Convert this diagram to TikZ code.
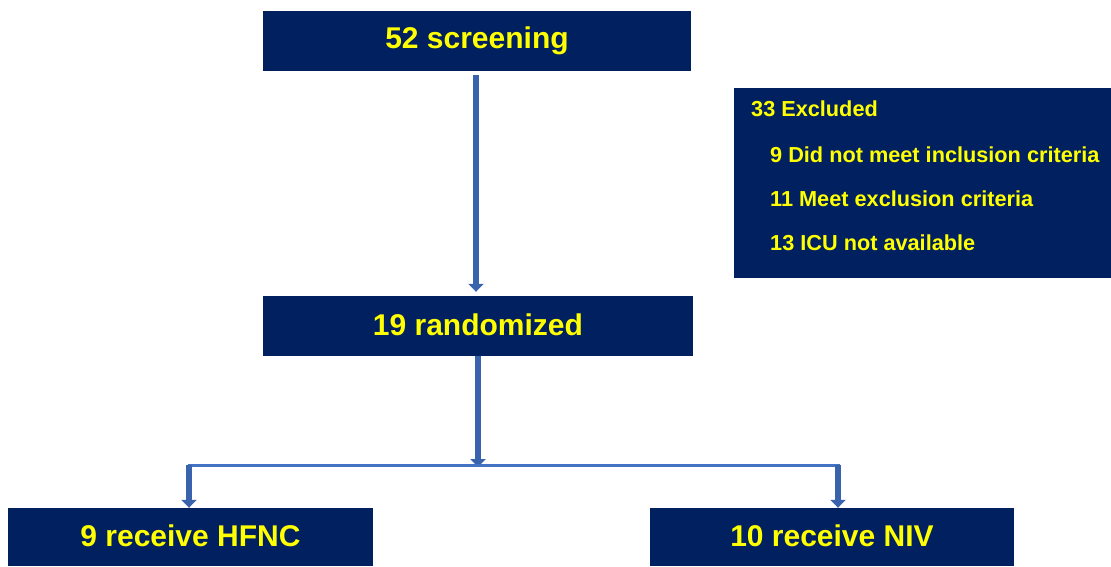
\documentclass[tikz,border=0pt]{standalone}
\usepackage{fontspec}
\setmainfont{Liberation Sans}
\usetikzlibrary{arrows.meta}
\definecolor{navy}{HTML}{002060}
\definecolor{arrowblue}{HTML}{3A63AE}
\definecolor{lineblue}{HTML}{4472C4}
\definecolor{txtyellow}{HTML}{FFFF00}
\tikzset{
  mainbox/.style={fill=navy, inner sep=0pt, text=txtyellow,
    font=\fontsize{30}{36}\selectfont\bfseries, minimum height=#1},
  mainbox/.default=60pt,
  smalltxt/.style={text=txtyellow, inner sep=0pt, anchor=base west,
    font=\fontsize{21.7}{26}\selectfont\bfseries},
  blockarrow/.style={draw=arrowblue, line width=5.5pt,
    -{Triangle[width=15pt,length=8pt]}},
  branchline/.style={draw=lineblue, line width=3pt}
}
\begin{document}
\begin{tikzpicture}[x=1pt,y=-1pt]
\useasboundingbox (0,0) rectangle (1111,567);
% main boxes
\node[mainbox, minimum width=428pt] (screen) at (477,41) {52 screening};
\node[mainbox, minimum width=430pt] (rand) at (478,326) {\raisebox{3pt}{19 randomized}};
\node[mainbox=58pt, minimum width=365pt] (hfnc) at (190.5,537) {\raisebox{2pt}{9 receive HFNC}};
\node[mainbox=58pt, minimum width=364pt] (niv) at (832,537) {\raisebox{2pt}{10 receive NIV}};
% excluded box
\node[fill=navy, inner sep=0pt, minimum width=377pt, minimum height=190pt] (excl) at (922.5,183) {};
\node[smalltxt] (ex0) at (751,117) {33 Excluded};
\node[smalltxt] (ex1) at (770,162) {9 Did not meet inclusion criteria};
\node[smalltxt] (ex2) at (770,206) {11 Meet exclusion criteria};
\node[smalltxt] (ex3) at (770,250) {13 ICU not available};
% connectors
\coordinate (split) at (478,465);
\coordinate (left) at (189,465);
\coordinate (right) at (838,465);
\draw[blockarrow, shorten <=4pt, shorten >=4pt] (screen.south -| 476,0) -- (rand.north -| 476,0);
\draw[blockarrow] (rand.south) -- ([yshift=-2pt]split);
\draw[branchline] ([xshift=-1.5pt]left) -- ([xshift=1.5pt]right);
\draw[blockarrow] (left) -- (left |- hfnc.north);
\draw[blockarrow] (right) -- (right |- niv.north);
\end{tikzpicture}
\end{document}
